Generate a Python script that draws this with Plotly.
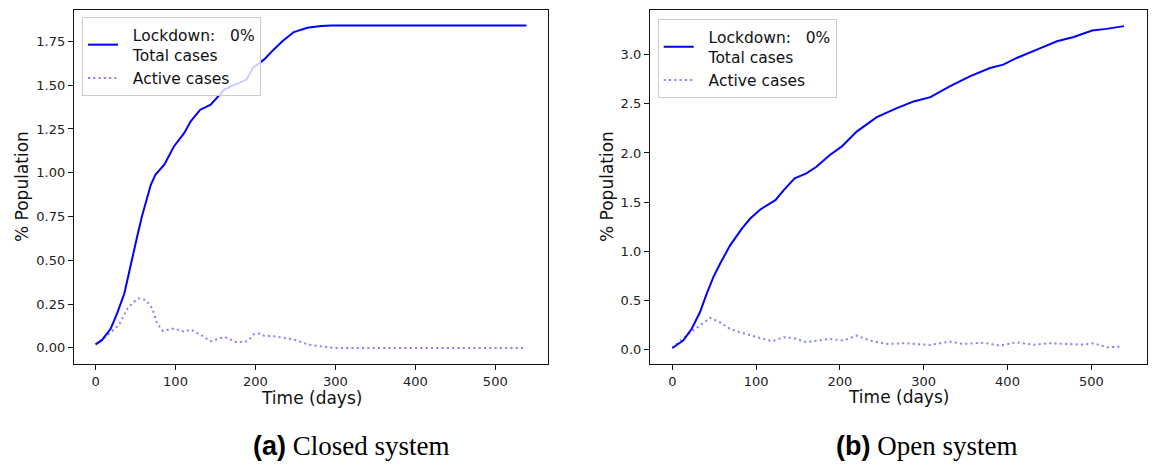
import plotly.graph_objects as go

# ---------------- data ----------------
# (a) Closed system
days_total_a = [0, 8, 19, 27, 36, 44, 52, 58, 63, 69, 75, 86, 98, 111, 119, 131, 144,
                161, 175, 189, 197, 211, 223, 234, 248, 265, 282, 295, 350, 400, 450, 500, 539]
total_a = [0.02, 0.044, 0.11, 0.197, 0.31, 0.48, 0.635, 0.75, 0.836, 0.93, 0.99, 1.046,
           1.15, 1.227, 1.294, 1.36, 1.389, 1.475, 1.505, 1.532, 1.6, 1.647, 1.704, 1.752,
           1.803, 1.828, 1.838, 1.84, 1.84, 1.84, 1.84, 1.84, 1.84]

days_active_a = [0, 15, 29, 40, 47, 54, 63, 71, 77, 84, 98, 111, 119, 132, 144, 161, 177,
                 190, 198, 205, 211, 223, 236, 248, 266, 281, 297, 350, 400, 450, 500, 539]
active_a = [0.019, 0.073, 0.13, 0.225, 0.26, 0.283, 0.273, 0.225, 0.14, 0.097, 0.111, 0.092,
            0.105, 0.073, 0.038, 0.063, 0.031, 0.038, 0.078, 0.082, 0.069, 0.067, 0.057,
            0.048, 0.019, 0.01, 0.0, 0.0, 0.0, 0.0, 0.0, 0.0]

# (b) Open system
days_total_b = [0, 13, 23, 33, 41, 49, 57, 69, 83, 93, 105, 123, 133, 146, 160, 172, 188,
                202, 220, 244, 268, 288, 308, 331, 355, 379, 395, 411, 435, 459, 479, 501,
                518, 539]
total_b = [0.017, 0.092, 0.21, 0.38, 0.568, 0.738, 0.874, 1.061, 1.231, 1.333, 1.425, 1.52,
           1.622, 1.742, 1.793, 1.86, 1.98, 2.064, 2.217, 2.364, 2.456, 2.524, 2.568, 2.677,
           2.779, 2.864, 2.898, 2.966, 3.051, 3.136, 3.18, 3.245, 3.262, 3.29]

days_active_b = [0, 17, 33, 45, 57, 69, 85, 101, 119, 133, 144, 160, 188, 204, 220, 236,
                 256, 276, 308, 331, 347, 371, 391, 411, 431, 451, 471, 491, 503, 519, 537]
active_b = [0.017, 0.143, 0.245, 0.323, 0.279, 0.21, 0.166, 0.126, 0.085, 0.126, 0.119,
            0.075, 0.109, 0.092, 0.143, 0.092, 0.058, 0.065, 0.048, 0.082, 0.058, 0.07,
            0.041, 0.075, 0.051, 0.065, 0.058, 0.051, 0.065, 0.024, 0.031]

x_ticks = [0, 100, 200, 300, 400, 500]
y_ticks_a = [0.0, 0.25, 0.5, 0.75, 1.0, 1.25, 1.5, 1.75]
y_ticks_b = [0.0, 0.5, 1.0, 1.5, 2.0, 2.5, 3.0]

PAD = "\u00a0\u00a0"
total_name = PAD + "Lockdown:\u00a0\u00a0\u00a00%<br>" + PAD + "Total cases"
active_name = PAD + "Active cases"
captions = [("<b>(a)</b>", "Closed system"), ("<b>(b)</b>", "Open system")]

# ---------------- figure ----------------
W, H = 1155, 466
BLUE = "#0000ff"
LIGHT = "rgba(0,0,255,0.5)"
FONT = "DejaVu Sans"

fig = go.Figure()

fig.add_trace(go.Scatter(x=days_total_a, y=total_a, mode="lines", name=total_name,
                         line=dict(color=BLUE, width=2), xaxis="x", yaxis="y",
                         legend="legend"))
fig.add_trace(go.Scatter(x=days_active_a, y=active_a, mode="lines", name=active_name,
                         line=dict(color=LIGHT, width=2, dash="2px,3.3px"),
                         xaxis="x", yaxis="y", legend="legend"))
fig.add_trace(go.Scatter(x=days_total_b, y=total_b, mode="lines", name=total_name,
                         line=dict(color=BLUE, width=2), xaxis="x2", yaxis="y2",
                         legend="legend2"))
fig.add_trace(go.Scatter(x=days_active_b, y=active_b, mode="lines", name=active_name,
                         line=dict(color=LIGHT, width=2, dash="2px,3.3px"),
                         xaxis="x2", yaxis="y2", legend="legend2"))

axis_common = dict(showline=True, mirror=True, linecolor="#111", linewidth=1.2,
                   ticks="outside", ticklen=5, tickwidth=1.2, tickcolor="#111",
                   showgrid=False, zeroline=False,
                   tickfont=dict(family=FONT, size=13, color="#222"))

ydom = [1 - 364 / H, 1 - 9.5 / H]
legend_common = dict(xanchor="left", yanchor="top", bgcolor="rgba(255,255,255,0.8)",
                     bordercolor="#cccccc", borderwidth=1, valign="middle",
                     font=dict(family=FONT, size=15.5, color="#111"), tracegroupgap=0,
                     itemwidth=30)
fig.update_layout(
    width=W, height=H,
    margin=dict(l=0, r=0, t=0, b=0),
    paper_bgcolor="white", plot_bgcolor="white",
    font=dict(family=FONT, color="#222"),
    xaxis=dict(domain=[74 / W, 548 / W], range=[-26.95, 565.95], tickvals=x_ticks,
               anchor="y", **axis_common),
    yaxis=dict(domain=ydom, range=[-0.092, 1.932], tickvals=y_ticks_a, tickformat=".2f",
               anchor="x", **axis_common),
    xaxis2=dict(domain=[650 / W, 1146.7 / W], range=[-26.6, 566.1], tickvals=x_ticks,
                anchor="y2", **axis_common),
    yaxis2=dict(domain=ydom, range=[-0.146, 3.459], tickvals=y_ticks_b, tickformat=".1f",
                anchor="x2", **axis_common),
    legend=dict(x=82 / W, y=1 - 17 / H, **legend_common),
    legend2=dict(x=657.7 / W, y=1 - 19 / H, **legend_common),
    showlegend=True,
)

annotations = []
# axis titles
for xc, yc in [(22, 187), (607, 187)]:
    annotations.append(dict(text="% Population", x=xc / W, y=1 - yc / H, xref="paper",
                            yref="paper", showarrow=False, textangle=-90,
                            font=dict(family=FONT, size=17, color="#111"),
                            xanchor="center", yanchor="middle"))
for xc, yc in [(311, 398), (898, 397)]:
    annotations.append(dict(text="Time (days)", x=xc / W, y=1 - yc / H, xref="paper",
                            yref="paper", showarrow=False,
                            font=dict(family=FONT, size=17, color="#111"),
                            xanchor="center", yanchor="middle"))
# captions
for (lab, cap), xc in zip(captions, [351, 926]):
    annotations.append(dict(
        text=f"<span style='font-family:Liberation Sans'>{lab}</span> {cap}",
        x=xc / W, y=1 - 446 / H, xref="paper", yref="paper", showarrow=False,
        font=dict(family="Liberation Serif", size=27, color="#000"),
        xanchor="center", yanchor="middle"))
fig.update_layout(annotations=annotations)

fig.write_html("out.html")
